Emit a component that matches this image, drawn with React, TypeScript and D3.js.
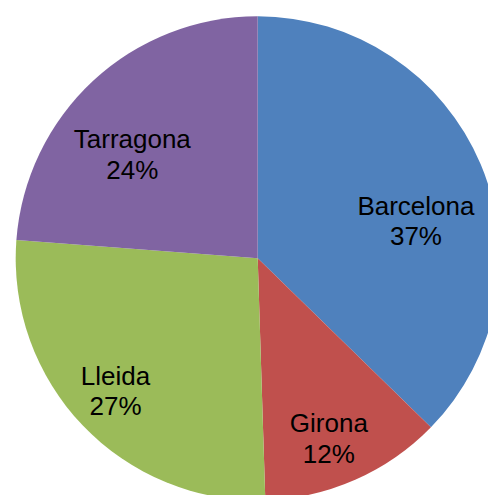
import React, { useEffect, useRef } from "react";
import * as d3 from "d3";

const regions = ["Barcelona", "Girona", "Lleida", "Tarragona"];
const shares = [37.3, 12.2, 26.7, 23.8];
const colors = ["#4F81BD", "#C0504D", "#9BBB59", "#8064A2"];

// label nudges (px) relative to the slice centroid
const labelNudge = [
  [-9, 33],
  [-2, 14],
  [-11, 7],
  [-2, 29],
];

export default function App() {
  const svgRef = useRef<SVGSVGElement | null>(null);

  useEffect(() => {
    const width = 488;
    const height = 495;
    const cx = 257.7;
    const cy = 258.3;
    const radius = 242;

    const svg = d3.select(svgRef.current);
    svg.selectAll("*").remove();
    svg.attr("width", width).attr("height", height);

    const data = regions.map((name, i) => ({ name, value: shares[i], i }));
    const total = d3.sum(shares);

    const pie = d3.pie<any>().sort(null).value((d) => d.value);
    const arcs = pie(data);

    const arc = d3.arc<any>().innerRadius(0).outerRadius(radius);
    const labelArc = d3.arc<any>().innerRadius(radius * 0.75).outerRadius(radius * 0.75);

    const g = svg.append("g").attr("transform", `translate(${cx},${cy})`);

    g.selectAll("path.slice")
      .data(arcs)
      .join("path")
      .attr("class", "slice")
      .attr("d", arc)
      .attr("fill", (d) => colors[d.data.i]);

    const labels = g.selectAll("text.lbl")
      .data(arcs)
      .join("text")
      .attr("class", "lbl")
      .attr("text-anchor", "middle")
      .style("font-family", "'Liberation Sans', Arial, sans-serif")
      .style("font-size", "26px")
      .style("fill", "#000")
      .attr("transform", (d) => {
        const [x, y] = labelArc.centroid(d);
        const [nx, ny] = labelNudge[d.data.i];
        return `translate(${x + nx},${y + ny})`;
      });

    labels.append("tspan")
      .attr("x", 0)
      .attr("y", -6)
      .text((d) => d.data.name);

    labels.append("tspan")
      .attr("x", 0)
      .attr("y", 24.5)
      .text((d) => `${Math.round((d.data.value / total) * 100)}%`);
  }, []);

  return (
    <svg
      ref={svgRef}
      style={{ position: "absolute", left: 0, top: 0, display: "block", background: "#fff" }}
    ></svg>
  );
}
